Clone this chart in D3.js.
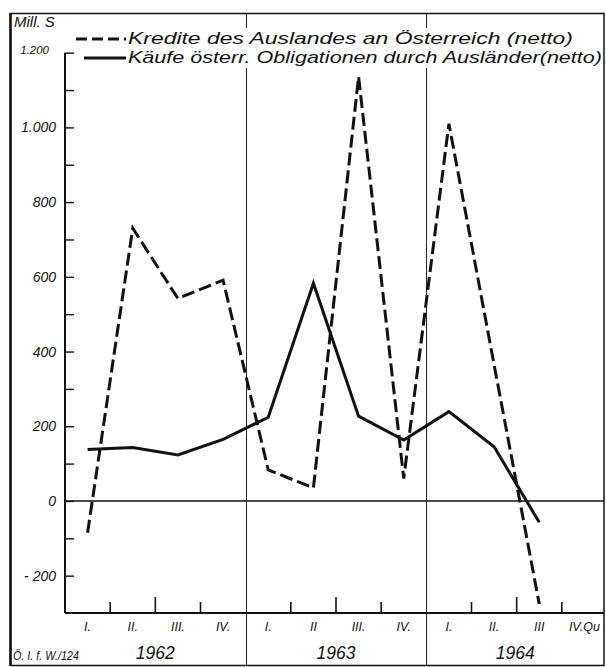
<!DOCTYPE html>
<html><head><meta charset="utf-8">
<script src="https://cdn.jsdelivr.net/npm/d3@7"></script>
<style>body{margin:0;background:#fff}svg{display:block}text{font-family:"Liberation Sans",Arial,sans-serif;font-style:italic;fill:#111}</style>
</head><body>
<script>
// ---- data ----
const quarters = ["1962-I","1962-II","1962-III","1962-IV","1963-I","1963-II","1963-III","1963-IV","1964-I","1964-II","1964-III","1964-IV"];
const quarterLabels = ["I.","II.","III.","IV.","I.","II","III.","IV.","I.","II.","III","IV.Qu"];
const years = ["1962","1963","1964"];
const kredite = [-85,730,542,591,83,35,1136,60,1010,365,-276,null];
const kaeufe = [138,143,123,165,224,583,227,163,239,145,-57,null];
const yTickValues = [-300,-200,-100,0,100,200,300,400,500,600,700,800,900,1000,1100,1200];
const yTickLabels = {"-200":"- 200","0":"0","200":"200","400":"400","600":"600","800":"800","1000":"1.000","1200":"1.200"};
const seriesNames = ["Kredite des Auslandes an Österreich (netto)","Käufe österr. Obligationen durch Ausländer(netto)"];
const unitLabel = "Mill. S";
const sourceLabel = "Ö. I. f. W./124";

const W = 606, H = 667;
const svg = d3.select("body").append("svg").attr("width",W).attr("height",H);

const x = d3.scaleBand().domain(quarters).range([65,607]).paddingInner(0).paddingOuter(0);
const y = d3.scaleLinear().domain([-300,1200]).range([613,52.7]);
const xc = q => x(q) + x.bandwidth()/2;

// outer frame
svg.append("rect").attr("x",10.5).attr("y",13.5).attr("width",593.5).attr("height",652)
  .attr("fill","none").attr("stroke","#111").attr("stroke-width",1.5);
svg.append("line").attr("x1",10.5).attr("x2",10.5).attr("y1",13).attr("y2",666).attr("stroke","#111").attr("stroke-width",2.5);

// year dividers
const dividers = [quarters[4], quarters[8]];
svg.selectAll(".div").data(dividers).enter().append("line")
  .attr("x1",d=>Math.round(x(d))+0.5).attr("x2",d=>Math.round(x(d))+0.5)
  .attr("y1",13).attr("y2",666).attr("stroke","#222").attr("stroke-width",1);

// zero line
svg.append("line").attr("x1",65).attr("x2",604).attr("y1",y(0)).attr("y2",y(0))
  .attr("stroke","#111").attr("stroke-width",1.6);

// y axis
const yAxis = d3.axisLeft(y).tickValues(yTickValues).tickSize(-9).tickPadding(0)
  .tickFormat(d => yTickLabels[String(d)] || "");
const ya = svg.append("g").attr("transform","translate(65,0)").call(yAxis);
ya.attr("font-size",null).attr("font-family",null);
ya.select(".domain").remove();
ya.selectAll(".tick line").attr("stroke","#111").attr("stroke-width",1.4);
ya.selectAll(".tick text").attr("x",-9).style("font-size","14px").attr("fill","#111");
ya.selectAll(".tick text").filter(d=>d===1200).style("font-size","11.5px").attr("x",-16).attr("dy","0.1em");
ya.selectAll(".tick").filter(d=>d===-300).remove();
svg.append("line").attr("x1",65).attr("x2",65).attr("y1",y(1200)).attr("y2",y(-300)).attr("stroke","#111").attr("stroke-width",2);

// x axis
svg.append("line").attr("x1",65).attr("x2",604).attr("y1",y(-300)).attr("y2",y(-300)).attr("stroke","#111").attr("stroke-width",2);
const xg = svg.append("g").attr("transform",`translate(0,${y(-300)})`);
xg.selectAll("line.qt").data(quarters.filter((q,i)=>i%4!==0)).enter().append("line")
  .attr("x1",d=>x(d)).attr("x2",d=>x(d)).attr("y1",0).attr("y2",(d,i)=>i%3===1?-16:-11)
  .attr("stroke","#111").attr("stroke-width",1.6);
xg.selectAll("text.ql").data(quarters).enter().append("text")
  .attr("x",d=>xc(d)).attr("y",18).attr("text-anchor","middle").style("font-size","12.5px")
  .text((d,i)=>quarterLabels[i]);

// year labels
svg.selectAll("text.yr").data(years).enter().append("text")
  .attr("x",(d,i)=>{const a=x(quarters[i*4]); const b=i<2?x(quarters[i*4+4]):604; return (a+b)/2;})
  .attr("y",659).attr("text-anchor","middle").style("font-size","17.5px").text(d=>d);

svg.append("text").attr("x",13).attr("y",660).style("font-size","13px").attr("textLength",66).attr("lengthAdjust","spacingAndGlyphs").text(sourceLabel);
svg.append("text").attr("x",14).attr("y",27).style("font-size","15px").text(unitLabel);

// data lines
const line = d3.line().defined(d=>d.v!==null).x(d=>xc(d.q)).y(d=>y(d.v));
svg.append("path").datum(quarters.map((q,i)=>({q,v:kaeufe[i]})))
  .attr("d",line).attr("fill","none").attr("stroke","#111").attr("stroke-width",3).attr("stroke-linejoin","miter");
svg.append("path").datum(quarters.map((q,i)=>({q,v:kredite[i]})))
  .attr("d",line).attr("fill","none").attr("stroke","#111").attr("stroke-width",3)
  .attr("stroke-dasharray","13,5").attr("stroke-linejoin","miter");

// legend
const leg = svg.append("g");
leg.append("rect").attr("x",140).attr("y",28).attr("width",463).attr("height",40).attr("fill","#fff");
leg.append("line").attr("x1",76).attr("x2",126).attr("y1",39).attr("y2",39).attr("stroke","#111").attr("stroke-width",3).attr("stroke-dasharray","11,5");
leg.append("line").attr("x1",84).attr("x2",126).attr("y1",58).attr("y2",58).attr("stroke","#111").attr("stroke-width",3);
leg.append("text").attr("x",128).attr("y",44).style("font-size","16.5px").attr("textLength",445).attr("lengthAdjust","spacingAndGlyphs").text(seriesNames[0]);
leg.append("text").attr("x",128).attr("y",63).style("font-size","16.5px").attr("textLength",474).attr("lengthAdjust","spacingAndGlyphs").text(seriesNames[1]);
</script>
</body></html>
